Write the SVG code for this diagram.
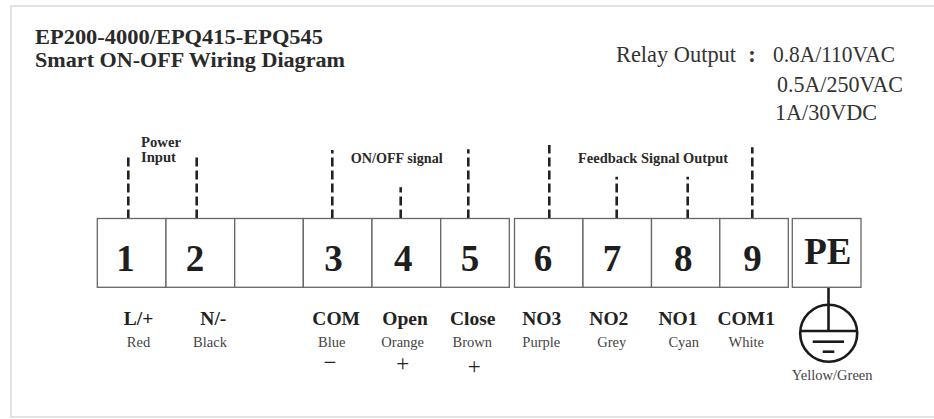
<svg xmlns="http://www.w3.org/2000/svg" width="934" height="419" viewBox="0 0 934 419">
<style>
.frame{fill:none;stroke:#d0d0d0;stroke-width:1.2}
.box{fill:#fff;stroke:#666;stroke-width:1.3}
.num{font-family:"Liberation Serif",serif;font-weight:bold;font-size:37px;fill:#1e1e1e;text-anchor:middle}
.title{font-family:"Liberation Serif",serif;font-weight:bold;font-size:20.5px;fill:#2a2a2a}
.rel{font-family:"Liberation Serif",serif;font-size:22.5px;fill:#333}
.grp{font-family:"Liberation Serif",serif;font-weight:bold;font-size:14px;fill:#2a2a2a}
.lab{font-family:"Liberation Serif",serif;font-weight:bold;font-size:19.5px;fill:#222;text-anchor:middle}
.col{font-family:"Liberation Serif",serif;font-size:14.5px;fill:#444;text-anchor:middle}
.sign{font-family:"Liberation Serif",serif;font-size:23px;fill:#222;text-anchor:middle}
.dash{stroke:#222;stroke-width:2.6;stroke-dasharray:9 4;fill:none}
.earth{stroke:#1a1a1a;stroke-width:2.6;fill:none}
</style>
<rect class="frame" x="11" y="6" width="930" height="411"/>
<g id="title">
<text class="title" x="35" y="44" textLength="288" lengthAdjust="spacingAndGlyphs">EP200-4000/EPQ415-EPQ545</text>
<text class="title" x="35" y="66.5" textLength="310" lengthAdjust="spacingAndGlyphs">Smart ON-OFF Wiring Diagram</text>
</g>
<g id="relay">
<text class="rel" x="616" y="62" textLength="120" lengthAdjust="spacingAndGlyphs">Relay Output</text>
<text class="rel" x="752" y="62" text-anchor="middle" font-weight="bold">:</text>
<text class="rel" x="773" y="62" textLength="122" lengthAdjust="spacingAndGlyphs">0.8A/110VAC</text>
<text class="rel" x="777" y="91.5" textLength="126" lengthAdjust="spacingAndGlyphs">0.5A/250VAC</text>
<text class="rel" x="775" y="120" textLength="102" lengthAdjust="spacingAndGlyphs">1A/30VDC</text>
</g>
<g id="group-labels">
<text class="grp" x="141" y="146.7" textLength="40" lengthAdjust="spacingAndGlyphs">Power</text>
<text class="grp" x="141" y="162.3" textLength="35" lengthAdjust="spacingAndGlyphs">Input</text>
<text class="grp" x="350.7" y="163.3" textLength="92" lengthAdjust="spacingAndGlyphs">ON/OFF signal</text>
<text class="grp" x="578" y="163.3" textLength="150" lengthAdjust="spacingAndGlyphs">Feedback Signal Output</text>
</g>
<g id="connectors">
<line class="dash" x1="128.3" y1="218.5" x2="128.3" y2="157"/>
<line class="dash" x1="196.7" y1="218.5" x2="196.7" y2="156"/>
<line class="dash" x1="332.3" y1="218.5" x2="332.3" y2="150"/>
<line class="dash" x1="400.7" y1="218.5" x2="400.7" y2="187.3"/>
<line class="dash" x1="468.3" y1="218.5" x2="468.3" y2="149.3"/>
<line class="dash" x1="549.3" y1="218.5" x2="549.3" y2="145"/>
<line class="dash" x1="616.7" y1="218.5" x2="616.7" y2="176.7"/>
<line class="dash" x1="687.7" y1="218.5" x2="687.7" y2="176.7"/>
<line class="dash" x1="752.3" y1="218.5" x2="752.3" y2="147.3"/>
<line class="earth" x1="828.5" y1="287.3" x2="828.5" y2="331"/>
</g>
<g id="t1"><rect class="box" x="97.3" y="218.5" width="68.7" height="68.8"/><text class="num" x="125.5" y="270.7">1</text>
<text class="lab" x="138.5" y="325">L/+</text><text class="col" x="138.5" y="347.3">Red</text></g>
<g id="t2"><rect class="box" x="166" y="218.5" width="68.7" height="68.8"/><text class="num" x="195" y="270.7">2</text>
<text class="lab" x="213.3" y="325">N/-</text><text class="col" x="210" y="347.3">Black</text></g>
<g id="blank"><rect class="box" x="234.7" y="218.5" width="68.6" height="68.8"/></g>
<g id="t3"><rect class="box" x="303.3" y="218.5" width="68.7" height="68.8"/><text class="num" x="333.5" y="270.7">3</text>
<text class="lab" x="336.2" y="325">COM</text><text class="col" x="331.7" y="347.3">Blue</text><text class="sign" x="330" y="370">−</text></g>
<g id="t4"><rect class="box" x="372" y="218.5" width="68.7" height="68.8"/><text class="num" x="403.3" y="270.7">4</text>
<text class="lab" x="405" y="325">Open</text><text class="col" x="402.7" y="347.3">Orange</text><text class="sign" x="402.7" y="371">+</text></g>
<g id="t5"><rect class="box" x="440.7" y="218.5" width="68.6" height="68.8"/><text class="num" x="470" y="270.7">5</text>
<text class="lab" x="472.7" y="325">Close</text><text class="col" x="472.3" y="347.3">Brown</text><text class="sign" x="474.3" y="374.3">+</text></g>
<g id="t6"><rect class="box" x="514.5" y="218.5" width="68.5" height="68.8"/><text class="num" x="543" y="270.7">6</text>
<text class="lab" x="541.7" y="325">NO3</text><text class="col" x="541.3" y="347.3">Purple</text></g>
<g id="t7"><rect class="box" x="583" y="218.5" width="68.5" height="68.8"/><text class="num" x="612" y="270.7">7</text>
<text class="lab" x="608.8" y="325">NO2</text><text class="col" x="611.7" y="347.3">Grey</text></g>
<g id="t8"><rect class="box" x="651.5" y="218.5" width="68.3" height="68.8"/><text class="num" x="683.3" y="270.7">8</text>
<text class="lab" x="678" y="325">NO1</text><text class="col" x="683.7" y="347.3">Cyan</text></g>
<g id="t9"><rect class="box" x="719.8" y="218.5" width="68.5" height="68.8"/><text class="num" x="752.5" y="270.7">9</text>
<text class="lab" x="746.2" y="325">COM1</text><text class="col" x="746.2" y="347.3">White</text></g>
<g id="pe"><rect class="box" x="792.3" y="218.5" width="68.7" height="68.8"/><text class="num" x="827.8" y="264.3">PE</text>
<circle class="earth" cx="828.7" cy="333.3" r="28.5"/>
<line class="earth" x1="800.2" y1="331" x2="857.2" y2="331"/>
<line class="earth" x1="812.7" y1="341.7" x2="844" y2="341.7"/>
<line class="earth" x1="822.7" y1="351.7" x2="834.3" y2="351.7"/>
<text class="col" x="832.2" y="380" font-size="14px">Yellow/Green</text></g>
</svg>
